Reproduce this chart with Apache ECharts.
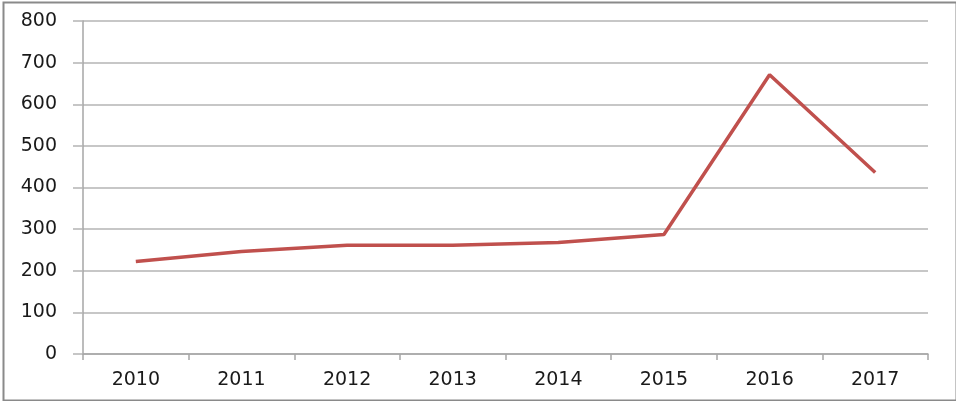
<!DOCTYPE html>
<html>
<head>
<meta charset="utf-8">
<script src="https://cdn.jsdelivr.net/npm/echarts@6/dist/echarts.min.js"></script>
<style>
html,body{margin:0;padding:0;background:#fff;}
#chart{width:956px;height:401px;}
</style>
</head>
<body>
<div id="chart"></div>
<script>
var categories = ['2010','2011','2012','2013','2014','2015','2016','2017'];
var values = [222, 246, 261, 261, 268, 287, 671, 436];
var yTicks = {min: 0, max: 800, interval: 100};

var chart = echarts.init(document.getElementById('chart'));
chart.setOption({
  animation: false,
  backgroundColor: '#fff',
  graphic: [{
    type: 'rect',
    left: 1, top: 0,
    shape: {width: 953, height: 398},
    style: {fill: 'none', stroke: '#8a8a8a', lineWidth: 2}
  }],
  grid: {left: 83, right: 28, top: 21, bottom: 47, containLabel: false},
  xAxis: {
    type: 'category',
    data: categories,
    boundaryGap: true,
    axisLine: {lineStyle: {color: '#a6a6a6', width: 1.5}},
    axisTick: {show: true, length: 6, lineStyle: {color: '#a6a6a6', width: 1.5}},
    axisLabel: {color: '#1a1a1a', fontSize: 19, fontFamily: 'DejaVu Sans', margin: 17}
  },
  yAxis: {
    type: 'value',
    min: yTicks.min, max: yTicks.max, interval: yTicks.interval,
    axisLine: {show: true, lineStyle: {color: '#a6a6a6', width: 1.5}},
    axisTick: {show: true, length: 10, lineStyle: {color: '#b4b4b4', width: 1.5}},
    splitLine: {lineStyle: {color: '#b4b4b4', width: 1.5}},
    axisLabel: {color: '#1a1a1a', fontSize: 19, fontFamily: 'DejaVu Sans', margin: 26}
  },
  series: [{
    type: 'line',
    data: values,
    symbol: 'none',
    lineStyle: {color: '#C0504D', width: 3.5},
    itemStyle: {color: '#C0504D'}
  }]
});
</script>
</body>
</html>
